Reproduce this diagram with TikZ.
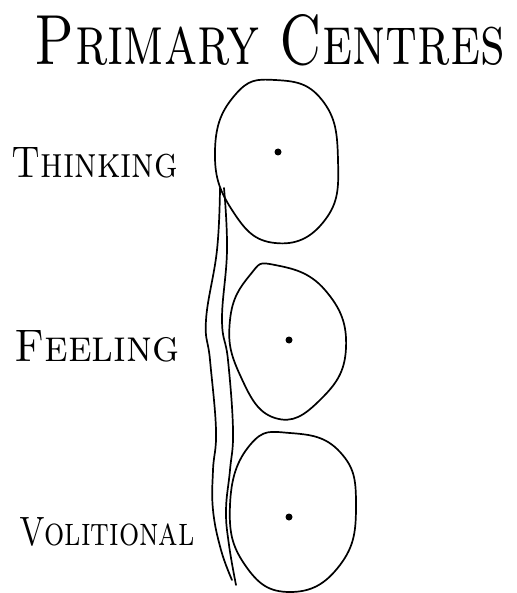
\documentclass[tikz,border=0pt]{standalone}
\usepackage{graphicx}
\begin{document}
\begin{tikzpicture}[x=1pt,y=-1pt,
  ink/.style={line width=1.7pt, line join=round, line cap=round},
  dot/.style={circle, fill=black, inner sep=0pt, minimum size=7pt},
  txt/.style={inner sep=0pt}]
\useasboundingbox (0,0) rectangle (516,593);
% title
\node[txt] (title) at (270,40) {\resizebox{470pt}{50pt}{\scshape Primary Centres}};
% labels
\node[txt] (thinkl) at (95,163) {\resizebox{166pt}{30pt}{\scshape Thinking}};
\node[txt] (feell) at (97,346) {\resizebox{165pt}{31pt}{\scshape Feeling}};
\node[txt] (volil) at (107,532) {\resizebox{175pt}{28pt}{\scshape Volitional}};
% centres (outlines)
\draw[ink] plot[smooth cycle, tension=0.8] coordinates {
 (275,80) (322,100) (338,160) (325,220) (275,243) (232,210) (215,150) (235,95)};
\draw[ink] plot[smooth cycle, tension=0.8] coordinates {
 (275,265) (325,290) (346,348) (320,400) (275,418) (240,375) (230,320) (250,275)};
\draw[ink] plot[smooth cycle, tension=0.8] coordinates {
 (290,433) (340,452) (356,505) (340,565) (290,592) (245,565) (230,505) (250,445)};
% dots
\node[dot] (d1) at (278,152) {};
\node[dot] (d2) at (289,340) {};
\node[dot] (d3) at (289,517) {};
% spine
\draw[ink] plot[smooth, tension=0.7] coordinates {
 (220,188) (217,250) (206,320) (210,360) (216,430) (213,470) (213,510) (221,550) (232,580)};
\draw[ink] plot[smooth, tension=0.7] coordinates {
 (224,188) (227,250) (222,320) (228,360) (233,430) (230,470) (226,510) (229,545) (236,585)};
\end{tikzpicture}
\end{document}
